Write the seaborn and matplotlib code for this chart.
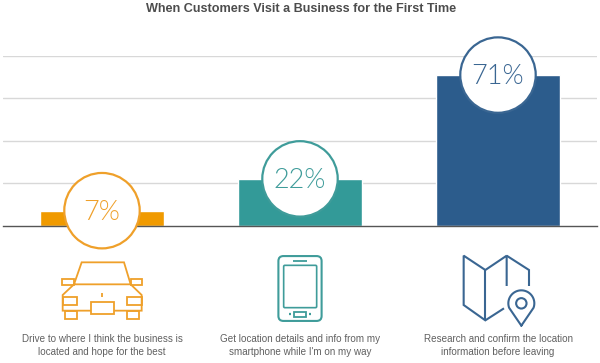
import matplotlib
matplotlib.use("Agg")
import matplotlib.pyplot as plt
from matplotlib import font_manager as fm
from matplotlib.patches import Rectangle, FancyBboxPatch, Circle
import numpy as np
import seaborn as sns

captions = ["Drive to where I think the business is\nlocated and hope for the best",
            "Get location details and info from my\nsmartphone while I'm on my way",
            "Research and confirm the location\ninformation before leaving"]
values = [7, 22, 71]
labels = ["7%", "22%", "71%"]
bar_colors = ["#F09A00", "#339A98", "#2C5C8C"]
line_colors = ["#EFA02A", "#3F9C9A", "#3A6692"]
title = "When Customers Visit a Business for the First Time"

sns.set_theme(style="white")
plt.rcParams["font.family"] = ["Liberation Sans", "DejaVu Sans"]
W, H = 600, 363
fig = plt.figure(figsize=(6, 3.63), dpi=100, facecolor="white")
ax = fig.add_axes([3 / W, 1 - 225.5 / H, 594 / W, 169.5 / H])

sns.barplot(x=captions, y=values, hue=captions, palette=bar_colors, legend=False,
            width=0.625, saturation=1, ax=ax)
sns.scatterplot(x=captions, y=values, s=2950, color="white", edgecolor=line_colors,
                linewidth=1.6, zorder=5, clip_on=False, legend=False, ax=ax)
ax.set_xlim(-0.5, 2.5)
ax.set_ylim(0, 80)
ax.set_yticks([20, 40, 60, 80])
ax.set_yticklabels([])
ax.set_axisbelow(True)
ax.yaxis.grid(True, color="#D8D8D8", linewidth=1)
ax.xaxis.grid(False)
for s in ["top", "left", "right"]:
    ax.spines[s].set_visible(False)
ax.spines["bottom"].set_color("#555555")
ax.spines["bottom"].set_linewidth(1)
ax.tick_params(axis="both", length=0)
ax.tick_params(axis="x", pad=78, labelsize=7.1, labelcolor="#606060")
for t in ax.get_xticklabels():
    t.set_linespacing(1.35)
ax.set_xlabel("")
ax.set_ylabel("")

light = [f.fname for f in fm.fontManager.ttflist
         if f.name == "Lato" and f.fname.lower().endswith(("lato-light.ttf", "lato-light.otf"))]
pct_font = fm.FontProperties(fname=light[0], size=19.5) if light else fm.FontProperties(family="Lato", size=19.5)
for i, (v, lab, c) in enumerate(zip(values, labels, line_colors)):
    ax.annotate(lab, xy=(i, v), xytext=(0, -1.2), textcoords="offset points", ha="center", va="center",
                fontproperties=pct_font, color=c, zorder=6, annotation_clip=False)

fig.text(301 / W, 1 - 8.5 / H, title, ha="center", va="center", fontsize=9.1,
         fontweight="bold", color="#4D4D4D")

# decorative icons, drawn on a pixel-space overlay
ov = fig.add_axes([0, 0, 1, 1], facecolor="none")
ov.set_xlim(0, W)
ov.set_ylim(H, 0)
ov.axis("off")


def car(x, y):
    return x / 3, 120 + y / 3


def rect(fn, x0, y0, x1, y1, c):
    a = fn(x0, y0)
    b = fn(x1, y1)
    ov.add_patch(Rectangle(a, b[0] - a[0], b[1] - a[1], fill=False, ec=c, lw=1.3))


def poly(fn, pts, c, lw=1.3):
    xy = np.array([fn(*p) for p in pts])
    ov.plot(xy[:, 0], xy[:, 1], color=c, lw=lw, solid_joinstyle="miter", solid_capstyle="butt")


c = line_colors[0]
poly(car, [(222, 493), (245, 427), (372, 427), (392, 493), (222, 493), (188, 525), (188, 572),
           (425, 572), (425, 525), (392, 493)], c)
rect(car, 187, 478, 222, 496, c)
rect(car, 392, 478, 427, 496, c)
rect(car, 188, 530, 232, 556, c)
rect(car, 382, 530, 425, 556, c)
ov.add_patch(Rectangle(car(272, 546), 70 / 3, 35 / 3, fc="white", ec=c, lw=1.3, zorder=3))
rect(car, 195, 572, 232, 598, c)
rect(car, 382, 572, 418, 598, c)
poly(car, [(306, 518), (306, 530)], c)


def low(x, y):
    return 250 + x / 3, 230 + y / 3


c = line_colors[1]
a = low(93, 86)
b = low(207, 265)
ov.add_patch(FancyBboxPatch(a, b[0] - a[0], b[1] - a[1], boxstyle="round,pad=2.6,rounding_size=5",
                            fill=False, ec=c, lw=1.5))
a = low(101, 106)
b = low(200, 233)
ov.add_patch(FancyBboxPatch(a, b[0] - a[0], b[1] - a[1], boxstyle="round,pad=0,rounding_size=1.2",
                            fill=False, ec=c, lw=1.2))
poly(low, [(130, 93), (172, 93)], c)
rect(low, 133, 245, 167, 260, c)
poly(low, [(116, 252), (124, 252)], c, 1.6)
poly(low, [(176, 252), (184, 252)], c, 1.6)

c = line_colors[2]
poly(low, [(770, 168), (770, 77), (706, 120), (641, 77), (641, 225), (706, 271), (762, 235)], c, 1.5)
poly(low, [(706, 120), (706, 271)], c, 1.5)
poly(low, [(770, 77), (837, 120), (837, 168)], c, 1.5)
cx, cy = low(814, 220)
tipx, tipy = low(814, 287)
r = 13
ang = np.radians(np.linspace(-20, 200, 40))
xs = cx + r * np.cos(ang)
ys = cy - r * np.sin(ang)
ov.plot(np.r_[tipx, xs, tipx], np.r_[tipy, ys, tipy], color=c, lw=1.5, solid_joinstyle="round")
ov.add_patch(Circle((cx, cy), 5.2, fill=False, ec=c, lw=1.5))

fig.savefig("out.png", dpi=100)
